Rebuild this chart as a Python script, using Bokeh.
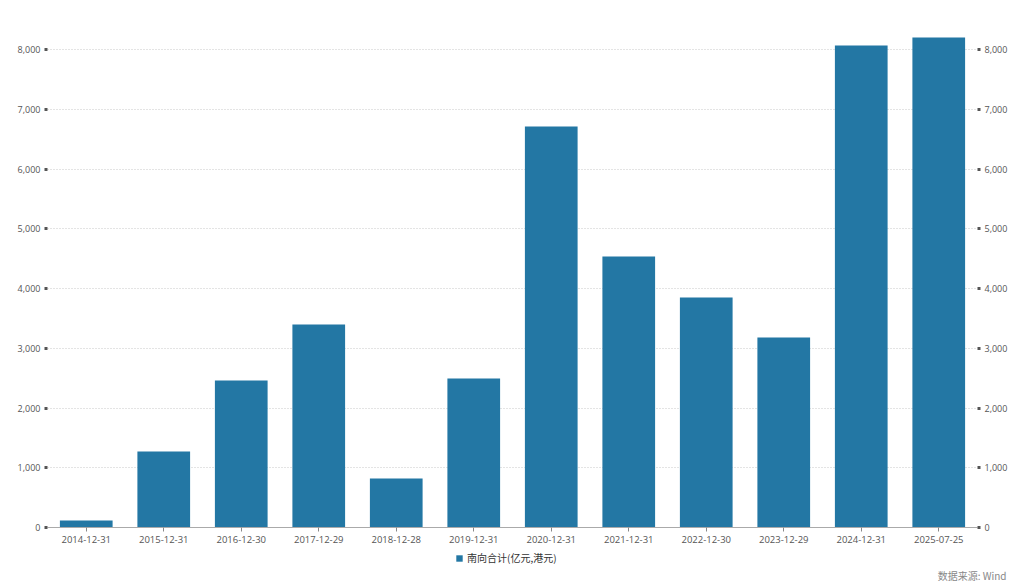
from bokeh.plotting import figure
from bokeh.layouts import column
from bokeh.models import LinearAxis, Legend, LegendItem, Title, NumeralTickFormatter, Range1d, ColumnDataSource, FixedTicker
from bokeh.embed import file_html
from bokeh.resources import INLINE

dates = ["2014-12-31", "2015-12-31", "2016-12-30", "2017-12-29", "2018-12-28", "2019-12-31",
         "2020-12-31", "2021-12-31", "2022-12-30", "2023-12-29", "2024-12-31", "2025-07-25"]
values = [118, 1272, 2460, 3397, 820, 2494, 6711, 4536, 3849, 3180, 8067, 8201]
series_name = "南向合计(亿元,港元)"
source_text = "数据来源: Wind"
yticks = [0, 1000, 2000, 3000, 4000, 5000, 6000, 7000, 8000]

FONT = "Open Sans"
CJK = "Noto Sans CJK SC"
BAR = "#2377a4"

src = ColumnDataSource(dict(x=dates, y=values))

p = figure(x_range=dates, width=1024, height=548, output_backend="svg", toolbar_location=None,
           min_border_left=47, min_border_right=47, min_border_top=30, min_border_bottom=21)
p.y_range = Range1d(0, 8320)
r = p.vbar(x="x", top="y", width=0.68, source=src, fill_color=BAR, line_color=None)

p.outline_line_color = None
p.xgrid.grid_line_color = None
p.ygrid.grid_line_color = "#c8c8c8"
p.ygrid.grid_line_dash = "1 2"
p.ygrid.ticker = FixedTicker(ticks=yticks)

yl = p.yaxis[0]
yr = LinearAxis()
p.add_layout(yr, "right")
for ax in (yl, yr):
    ax.ticker = FixedTicker(ticks=yticks)
    ax.formatter = NumeralTickFormatter(format="0,0")
    ax.axis_line_color = None
    ax.major_tick_line_color = "#555555"
    ax.major_tick_line_width = 3
    ax.major_tick_out = 3
    ax.major_tick_in = 0
    ax.minor_tick_line_color = None
    ax.major_label_text_font = FONT
    ax.major_label_text_font_size = "9px"
    ax.major_label_text_color = "#555555"
    ax.major_label_standoff = 4

xa = p.xaxis[0]
xa.axis_line_color = "#aaaaaa"
xa.major_tick_line_color = "#888888"
xa.major_tick_out = 4
xa.major_tick_in = 0
xa.minor_tick_line_color = None
xa.major_label_text_font = FONT
xa.major_label_text_font_size = "9.5px"
xa.major_label_text_color = "#555555"
xa.major_label_standoff = 4

# footer strip: legend + source note (zero-width bars only serve as the legend's swatch)
p2 = figure(width=1024, height=34, output_backend="svg", toolbar_location=None,
            x_range=p.x_range, y_range=Range1d(20000, 21000),
            min_border_left=0, min_border_right=0, min_border_top=0, min_border_bottom=4)
p2.axis.visible = False
p2.grid.visible = False
p2.outline_line_color = None
r2 = p2.vbar(x="x", top="y", width=0, source=src, fill_color=BAR, line_color=None)

legend = Legend(items=[LegendItem(label=series_name, renderers=[r2])], location=(408, 0),
                orientation="horizontal", border_line_color=None, background_fill_alpha=0,
                label_text_font=CJK, label_text_font_size="10px", label_text_color="#333333",
                glyph_width=8, glyph_height=8, label_standoff=4, padding=0, margin=0,
                label_height=12, spacing=0)
p2.add_layout(legend, "center")

p2.add_layout(Title(text=source_text, align="right", offset=-29, standoff=0,
                    text_font=CJK, text_font_size="10px", text_color="#888888",
                    text_font_style="normal"), "below")

layout = column(p, p2, spacing=0)
open("out.html", "w").write(file_html(layout, INLINE))
